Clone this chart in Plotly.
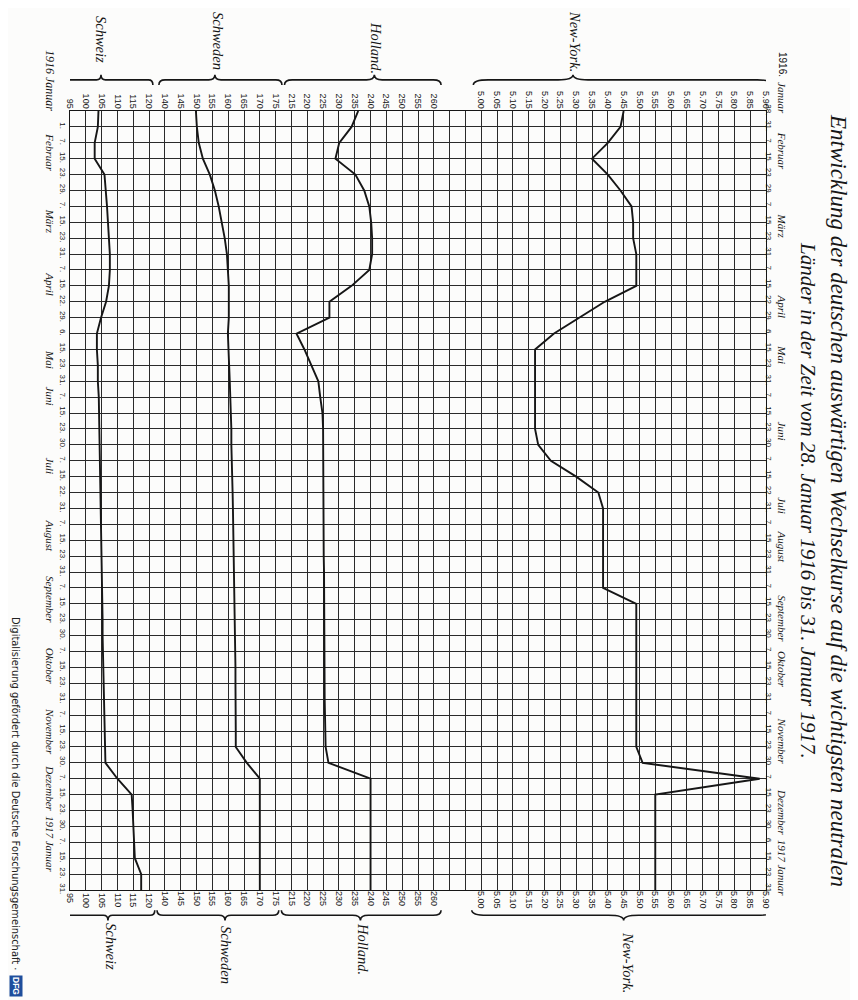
import plotly.graph_objects as go

# ---------------- data ----------------
dates = ["1916-01-28", "1916-01-31",
         "1916-02-07", "1916-02-15", "1916-02-23", "1916-02-29",
         "1916-03-07", "1916-03-15", "1916-03-23", "1916-03-31",
         "1916-04-07", "1916-04-15", "1916-04-22", "1916-04-29",
         "1916-05-06", "1916-05-15", "1916-05-23", "1916-05-31",
         "1916-06-07", "1916-06-15", "1916-06-23", "1916-06-30",
         "1916-07-07", "1916-07-15", "1916-07-22", "1916-07-31",
         "1916-08-07", "1916-08-15", "1916-08-23", "1916-08-31",
         "1916-09-07", "1916-09-15", "1916-09-23", "1916-09-30",
         "1916-10-07", "1916-10-15", "1916-10-23", "1916-10-31",
         "1916-11-07", "1916-11-15", "1916-11-23", "1916-11-30",
         "1916-12-07", "1916-12-15", "1916-12-23", "1916-12-30",
         "1917-01-06", "1917-01-15", "1917-01-23", "1917-01-31"]

days_right = ["28.", "31.", "7.", "15.", "23.", "29.", "7.", "15.", "23.", "31.",
              "7.", "15.", "22.", "29.", "6.", "15.", "23.", "31.", "7.", "15.",
              "23.", "30.", "7.", "15.", "22.", "31.", "7.", "15.", "23.", "31.",
              "7.", "15.", "23.", "30.", "7.", "15.", "23.", "31.", "7.", "15.",
              "23.", "30.", "7.", "15.", "23.", "30.", "6.", "15.", "23.", "31."]
days_left = ["", "1.", "7.", "15.", "23.", "29.", "7.", "15.", "23.", "31.",
             "7.", "15.", "22.", "29.", "6.", "15.", "23.", "31.", "7.", "15.",
             "23.", "30.", "7.", "15.", "22.", "31.", "7.", "15.", "23.", "31.",
             "7.", "15.", "23.", "30.", "7.", "15.", "23.", "31.", "7.", "15.",
             "23.", "30.", "7.", "15.", "23.", "30.", "7.", "15.", "23.", "31."]

months_right = ["Februar", "März", "April", "Mai", "Juni", "Juli", "August",
                "September", "Oktober", "November", "Dezember", "1917 Januar"]
months_right_row = [2.5, 7.2, 12.3, 15.3, 20.1, 24.8, 27.4, 31.9, 35.1, 39.6, 44.1, 47.6]
months_left = ["Februar", "März", "April", "Mai", "Juni", "Juli", "August",
               "September", "Oktober", "November", "Dezember", "1917 Januar"]
months_left_row = [2.6, 6.9, 10.9, 15.6, 17.9, 22.3, 26.7, 30.7, 34.9, 39.0, 42.6, 46.1]

schweiz = [104.0, 103.8, 102.8, 102.8, 105.9, 106.4, 106.7, 107.0, 107.3, 107.6,
           107.6, 107.3, 106.4, 104.8, 103.5, 103.5, 103.8, 103.8, 104.1, 104.2,
           104.3, 104.4, 104.5, 104.6, 104.7, 104.8, 104.9, 105.0, 105.0, 105.1,
           105.2, 105.2, 105.3, 105.3, 105.4, 105.5, 105.5, 105.6, 105.7, 105.8,
           106.0, 106.2, 110.0, 114.5, 114.8, 115.0, 115.2, 115.5, 117.5, 117.5]
schweden = [149.8, 150.1, 150.7, 152.0, 154.2, 155.8, 157.0, 158.0, 158.9, 159.6,
            159.9, 160.2, 160.2, 160.2, 159.9, 160.0, 160.3, 160.5, 160.7, 160.8,
            161.0, 161.0, 161.2, 161.3, 161.4, 161.5, 161.6, 161.7, 161.8, 161.9,
            162.0, 162.0, 162.1, 162.2, 162.2, 162.3, 162.3, 162.4, 162.4, 162.4,
            162.4, 165.9, 170.0, 170.0, 170.0, 170.0, 170.0, 170.0, 170.0, 170.0]
holland = [236.1, 234.0, 230.1, 228.9, 235.2, 238.0, 239.6, 240.2, 240.5, 240.5,
           239.6, 234.0, 227.0, 227.0, 216.6, 219.1, 221.3, 223.5, 224.1, 224.8,
           225.0, 225.0, 225.0, 225.0, 225.0, 225.0, 225.2, 225.2, 225.2, 225.3,
           225.3, 225.3, 225.4, 225.4, 225.4, 225.5, 225.5, 225.5, 225.6, 225.6,
           225.8, 226.7, 240.0, 240.0, 240.0, 240.0, 240.0, 240.0, 240.0, 240.0]
newyork = [5.45, 5.44, 5.40, 5.35, 5.40, 5.44, 5.475, 5.48, 5.48, 5.49,
           5.49, 5.49, 5.39, 5.31, 5.23, 5.17, 5.17, 5.17, 5.17, 5.17,
           5.17, 5.18, 5.22, 5.30, 5.37, 5.385, 5.385, 5.385, 5.385, 5.385,
           5.385, 5.49, 5.49, 5.49, 5.49, 5.49, 5.49, 5.49, 5.49, 5.49,
           5.49, 5.51, 5.88, 5.55, 5.55, 5.55, 5.55, 5.55, 5.55, 5.55]

schweiz_ticks = [95, 100, 105, 110, 115, 120]
schweden_ticks = [140, 145, 150, 155, 160, 165, 170, 175]
holland_ticks = [215, 220, 225, 230, 235, 240, 245, 250, 255, 260]
holland_blank = [265, 270]
ny_ticks = [5.00, 5.05, 5.10, 5.15, 5.20, 5.25, 5.30, 5.35, 5.40, 5.45,
            5.50, 5.55, 5.60, 5.65, 5.70, 5.75, 5.80, 5.85, 5.90]

# ---------------- style ----------------
INK = "#161616"
GRID = "#2a2a2a"
N_COLS = 44          # grid columns across the whole sheet
SCRIPT = "Liberation Serif"
NUMF = "Liberation Sans"
L, T, W, H = 62, 103, 696, 779   # plot-area box in pixels


def px(x):
    return (x - L) / W


def py(y):
    return (T + H - y) / H


# (name, values, tick values, tick texts, first column, step per column)
series = [
    ("Schweiz", schweiz, schweiz_ticks, [str(v) for v in schweiz_ticks], 0, 5),
    ("Schweden", schweden, schweden_ticks, [str(v) for v in schweden_ticks], 6, 5),
    ("Holland", holland, holland_ticks + holland_blank,
     [str(v) for v in holland_ticks] + ["" for _ in holland_blank], 14, 5),
    ("New-York", newyork, ny_ticks, ["%.2f" % v for v in ny_ticks], 26, 0.05),
]

# brace extents (in each series' units)
brace_top = [(92.8, 121.2, 104.8), (138.1, 177.0, 155.8), (212.8, 262.3, 241.2), (4.975, 5.92, 5.29)]
brace_bot = [(92.2, 121.8, 107.0), (137.5, 176.0, 159.0), (211.8, 262.3, 236.8), (4.97, 5.92, 5.45)]

fig = go.Figure()
layout = {}

for i, (name, vals, tv, tt, c0, step) in enumerate(series):
    lo = tv[0] - step * c0
    hi = tv[0] + step * (N_COLS - c0)
    bot_id = "x" if i == 0 else "x%d" % (i + 1)
    top_id = "x%d" % (i + 5)
    yid = "y2" if i == 3 else "y"
    fig.add_trace(go.Scatter(x=vals, y=dates, xaxis=bot_id, yaxis=yid, mode="lines",
                             line=dict(color=INK, width=1.9), name=name,
                             hoverinfo="x+y", showlegend=False))
    fig.add_trace(go.Scatter(x=vals, y=dates, xaxis=top_id, yaxis="y", mode="lines",
                             line=dict(color=INK, width=1.9), opacity=0,
                             hoverinfo="skip", showlegend=False))
    common = dict(range=[lo, hi], autorange=False, domain=[0, 1],
                  tickmode="array", tickvals=tv, ticktext=tt, tickangle=90,
                  ticks="", tickfont=dict(family=NUMF, size=9, color=INK),
                  zeroline=False, fixedrange=True)
    bot = dict(common, side="bottom", anchor="y", showgrid=True,
               gridcolor=GRID, gridwidth=1.1)
    top = dict(common, side="top", anchor="y", overlaying="x", showgrid=False)
    if i == 0:
        bot.update(showline=True, mirror=True, linecolor=INK, linewidth=1.4)
    else:
        bot["overlaying"] = "x"
    key_b = "xaxis" if i == 0 else "xaxis%d" % (i + 1)
    layout[key_b] = bot
    layout["xaxis%d" % (i + 5)] = top

    # braces: top (tip upward) and bottom (tip downward)
    for (a, b, c), y0, dy in ((brace_top[i], 1.0334, 0.0065), (brace_bot[i], -0.026, -0.0065)):
        w = (b - a) * 0.05
        y1, y2 = y0 + dy, y0 + 2 * dy
        path = (f"M {a},{y0} Q {a},{y1} {a + w},{y1} L {c - w},{y1} Q {c},{y1} {c},{y2} "
                f"Q {c},{y1} {c + w},{y1} L {b - w},{y1} Q {b},{y1} {b},{y0}")
        fig.add_shape(type="path", path=path, xref=bot_id, yref="paper",
                      line=dict(color=INK, width=1.6))

layout["yaxis"] = dict(type="category", categoryorder="array", categoryarray=dates,
                       range=[len(dates) - 1, 0], autorange=False,
                       tickmode="array", tickvals=dates, ticktext=days_left,
                       tickangle=90, ticks="", side="left", ticklabelstandoff=-1,
                       tickfont=dict(family=NUMF, size=8, color=INK),
                       showgrid=True, gridcolor=GRID, gridwidth=1.1,
                       showline=True, mirror=True, linecolor=INK, linewidth=1.4,
                       zeroline=False, fixedrange=True)
layout["yaxis2"] = dict(type="category", matches="y", overlaying="y", side="right",
                        tickmode="array", tickvals=dates, ticktext=days_right,
                        tickangle=90, ticks="", showgrid=False, ticklabelstandoff=-3,
                        tickfont=dict(family=NUMF, size=8, color=INK),
                        zeroline=False, fixedrange=True)

ann = []


def note(text, x, y, font, yref="paper"):
    ann.append(dict(text=text, x=x, xref="paper", y=y, yref=yref, textangle=90,
                    xanchor="center", yanchor="middle", showarrow=False, font=font))


sfont = dict(family=SCRIPT, size=11, color=INK, style="italic")
for lab, r in zip(months_right, months_right_row):
    note(lab, px(774), r, sfont, yref="y")
for lab, r in zip(months_left, months_left_row):
    note(lab, px(42), r, sfont, yref="y")
note("1916.", px(775), py(56), dict(family=NUMF, size=10, color=INK))
note("Januar", px(774), py(90), sfont)
note("1916 Januar", px(42), py(72), dict(sfont, size=12))

# series names at braces
name_top = [(93, 31), (210, 33), (368, 40), (567, 33)]
name_bot = [(103, 938), (218, 947), (355, 941), (620, 954)]
nfont = dict(family=SCRIPT, size=14.5, color=INK, style="italic")
labels = ["Schweiz", "Schweden", "Holland.", "New-York."]
for (x, y), lab in zip(name_top, labels):
    note(lab, px(x), py(y), nfont)
for (x, y), lab in zip(name_bot, labels):
    note(lab, px(x), py(y), nfont)

# title (two lines, rotated)
note("Entwicklung der deutschen auswärtigen Wechselkurse auf die wichtigsten neutralen",
     px(831), py(492), dict(family=SCRIPT, size=23, color=INK, style="italic"))
note("Länder in der Zeit vom 28. Januar 1916 bis 31. Januar 1917.",
     px(800), py(492), dict(family=SCRIPT, size=21, color=INK, style="italic"))

# footer
note("Digitalisierung gefördert durch die Deutsche Forschungsgemeinschaft ·",
     px(8), py(785), dict(family="DejaVu Sans Condensed", size=11, color="#222"))
note("<b>DFG</b>", px(8), py(978), dict(family=NUMF, size=8.5, color="white"))
ann[-1]["bgcolor"] = "#1f4e9c"
ann[-1]["borderpad"] = 1

fig.update_layout(width=858, height=1000, margin=dict(l=L, r=858 - L - W, t=T, b=1000 - T - H),
                  paper_bgcolor="#fcfcfb", plot_bgcolor="#fcfcfb",
                  annotations=ann, showlegend=False, **layout)

fig.write_html("out.html")
